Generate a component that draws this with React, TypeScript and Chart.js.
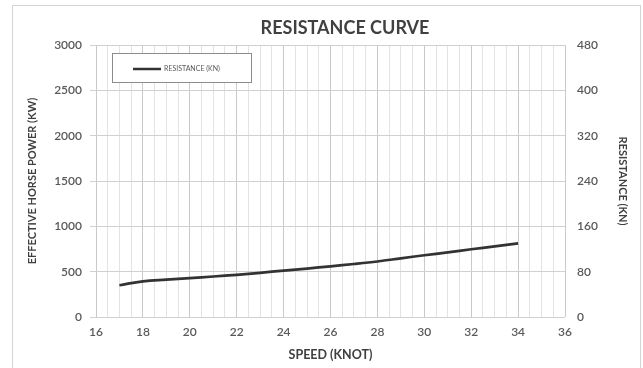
import React, { useEffect, useRef } from "react";
import { Chart, registerables } from "chart.js";

Chart.register(...registerables);

const speeds = [17, 18, 19, 20, 21, 22, 23, 24, 25, 26, 27, 28, 29, 30, 31, 32, 33, 34];
const resistanceKN = [56, 63, 66, 68.5, 71.5, 74.5, 78, 82, 85.5, 89.5, 93.5, 98, 103.5, 109, 114, 119.5, 124.5, 130];
const seriesLabel = "RESISTANCE (KN)";
const chartTitle = "RESISTANCE CURVE";
const xTitle = "SPEED (KNOT)";
const yLeftTitle = "EFFECTIVE HORSE POWER (KW)";
const yRightTitle = "RESISTANCE (KN)";

const FONT = "Lato";
const TEXT = "#595959";
const TITLE_TEXT = "#404040";

const framePlugin = {
  id: "frame",
  beforeDraw(chart: any) {
    const { ctx, width, height } = chart;
    ctx.save();
    ctx.fillStyle = "#ffffff";
    ctx.fillRect(0, 0, width, height);
    ctx.strokeStyle = "#d4d4d4";
    ctx.lineWidth = 1;
    ctx.strokeRect(12.5, 5.5, 628, 380);
    ctx.fillStyle = TITLE_TEXT;
    ctx.font = `bold 18px ${FONT}`;
    ctx.textAlign = "center";
    ctx.textBaseline = "middle";
    ctx.fillText(chartTitle, 345, 28);
    ctx.restore();
  },
};

const legendPlugin = {
  id: "boxLegend",
  afterDatasetsDraw(chart: any) {
    const { ctx } = chart;
    ctx.save();
    ctx.fillStyle = "#ffffff";
    ctx.fillRect(112.5, 53.5, 139, 29);
    ctx.strokeStyle = "#8c8c8c";
    ctx.lineWidth = 1;
    ctx.strokeRect(112.5, 53.5, 139, 29);
    ctx.strokeStyle = "#333333";
    ctx.lineWidth = 2.5;
    ctx.beginPath();
    ctx.moveTo(133, 69);
    ctx.lineTo(161, 69);
    ctx.stroke();
    ctx.fillStyle = TEXT;
    ctx.font = `7px ${FONT}`;
    ctx.textBaseline = "middle";
    ctx.textAlign = "left";
    ctx.fillText(chart.data.datasets[0].label, 164, 69);
    ctx.restore();
  },
};

const tickFont = { family: FONT, size: 12, weight: "600" };
const titleFont = { family: FONT, size: 11, weight: "bold" };

export default function App() {
  const ref = useRef<HTMLCanvasElement | null>(null);
  useEffect(() => {
    if (!ref.current) return;
    const chart = new Chart(ref.current, {
      type: "line",
      data: {
        datasets: [
          {
            label: seriesLabel,
            data: speeds.map((s, i) => ({ x: s, y: resistanceKN[i] })),
            yAxisID: "y1",
            borderColor: "#333333",
            borderWidth: 2.7,
            pointRadius: 0,
            tension: 0.4,
            fill: false,
          },
        ],
      },
      options: {
        responsive: false,
        animation: false,
        layout: { padding: { top: 45, left: 0, right: 0, bottom: 0 } },
        plugins: {
          legend: { display: false },
          tooltip: { enabled: false },
          title: { display: false },
        },
        scales: {
          x: {
            type: "linear",
            position: "bottom",
            min: 16,
            max: 36,
            afterFit: (s: any) => { s.height = 51; },
            ticks: {
              stepSize: 0.5,
              autoSkip: false,
              maxRotation: 0,
              padding: 8,
              color: TEXT,
              font: tickFont,
              callback: (v: any) => (Number(v) % 2 === 0 ? String(v) : ""),
            },
            grid: {
              drawTicks: false,
              color: (c: any) => (c.tick && c.tick.value % 2 === 0 ? "#c9c9c9" : "#e3e3e3"),
            },
            border: { display: false },
            title: {
              display: true,
              text: xTitle,
              color: TITLE_TEXT,
              font: { family: FONT, size: 12.5, weight: "bold" },
              padding: { top: 0, bottom: 5.5 },
            },
          },
          y: {
            position: "left",
            min: 0,
            max: 3000,
            afterFit: (s: any) => { s.width = 96; },
            ticks: {
              stepSize: 500,
              padding: 8,
              color: TEXT,
              font: tickFont,
              callback: (v: any) => String(v),
            },
            grid: { color: "#d0d0d0", tickLength: 6 },
            border: { display: false },
            title: {
              display: true,
              text: yLeftTitle,
              color: TITLE_TEXT,
              font: titleFont,
              padding: { top: 26, bottom: 0 },
            },
          },
          y1: {
            position: "right",
            min: 0,
            max: 480,
            afterFit: (s: any) => { s.width = 78; },
            ticks: {
              stepSize: 80,
              padding: 12,
              color: TEXT,
              font: tickFont,
              callback: (v: any) => String(v),
            },
            grid: { display: false, drawTicks: false, drawOnChartArea: false },
            border: { display: false },
            title: {
              display: true,
              text: yRightTitle,
              color: TITLE_TEXT,
              font: titleFont,
              padding: { top: 14, bottom: 0 },
            },
          },
        },
      } as any,
      plugins: [framePlugin, legendPlugin],
    });
    return () => chart.destroy();
  }, []);
  return (
    <div style={{ position: "absolute", left: 0, top: 0, width: 643, height: 368 }}>
      <canvas ref={ref} width={643} height={368} style={{ display: "block" }} />
    </div>
  );
}
